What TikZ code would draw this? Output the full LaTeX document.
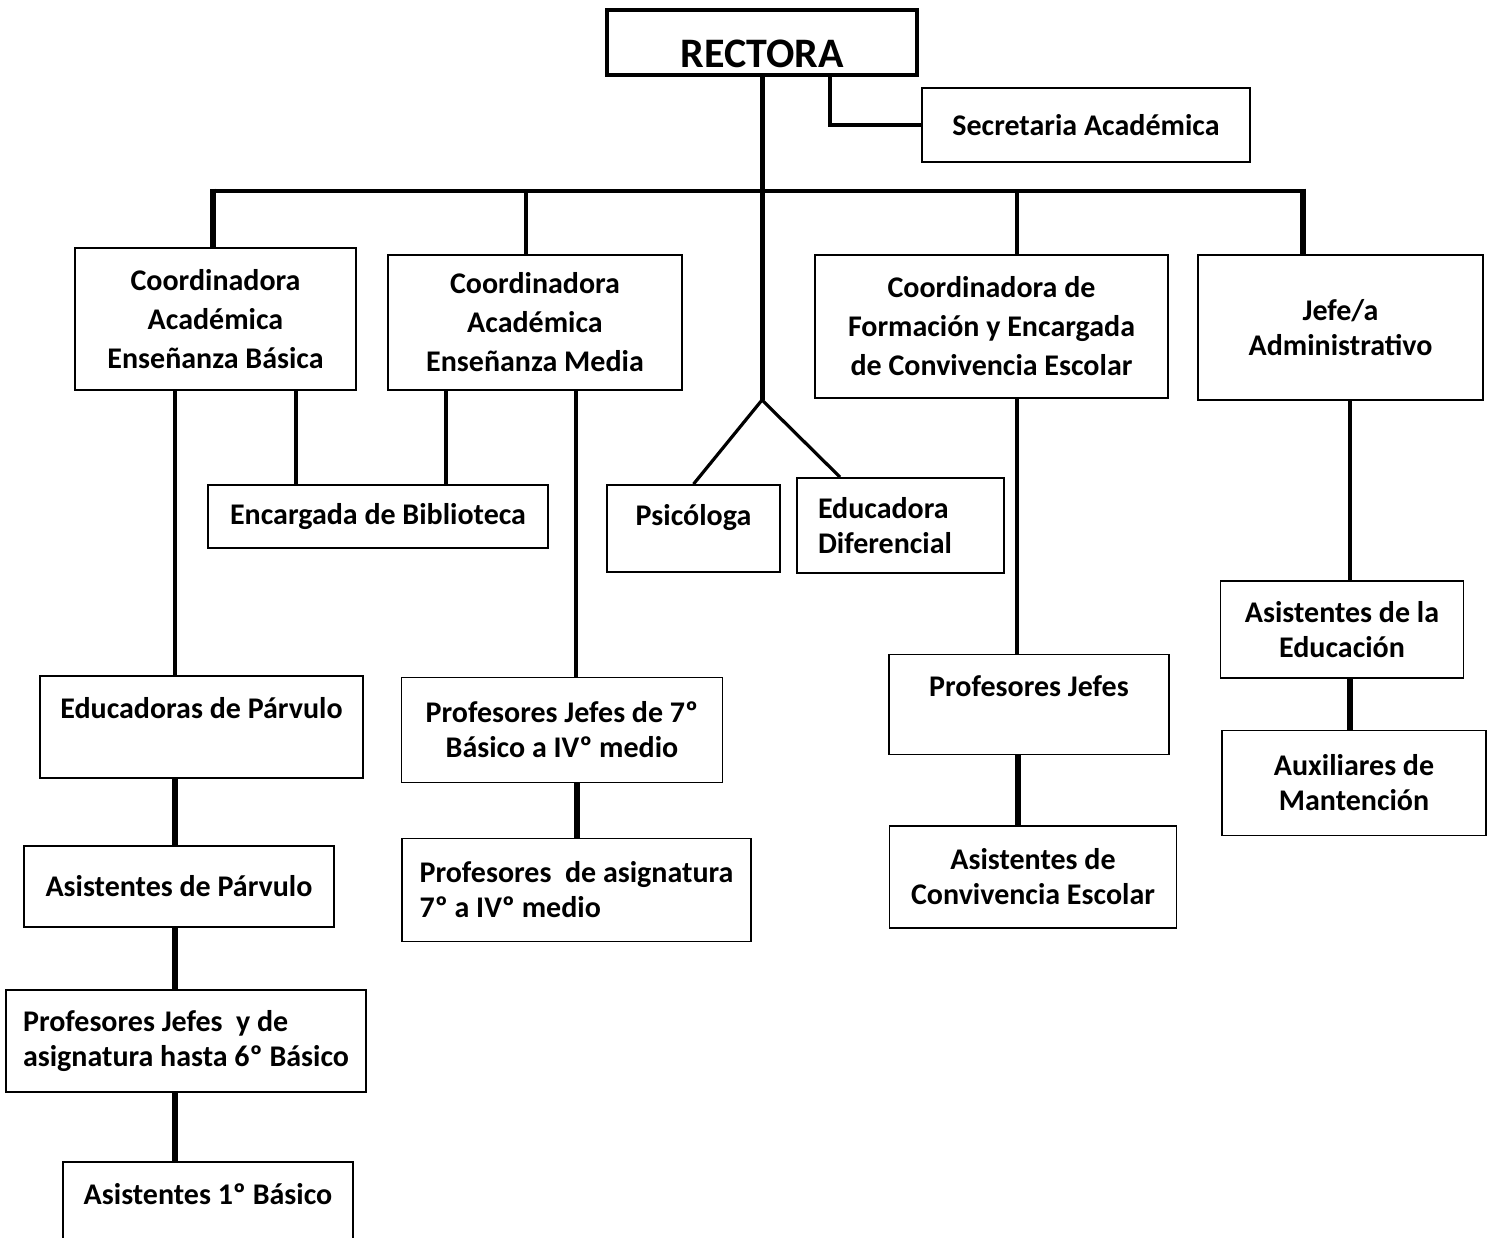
\documentclass[tikz,border=0pt]{standalone}
\usepackage{fontspec}
\setmainfont{Carlito}
\usepackage{tikz}

\tikzset{
  orgbox/.style={draw=black, line width=0.9pt, fill=white, inner sep=2pt, align=center,
    font=\fontsize{15}{17.5}\selectfont\bfseries},
  widelines/.style={font=\fontsize{15}{19.5}\selectfont\bfseries},
  boxsize/.style 2 args={minimum width=#1*0.5pt, minimum height=#2*0.5pt},
  toptext/.style={text height=10pt, text depth=#1},
  link/.style={line width=1.6pt},
  heavylink/.style={line width=2.8pt},
  busline/.style={line width=2.3pt}
}

\begin{document}
\begin{tikzpicture}[x=0.5pt, y=-0.5pt]
    \useasboundingbox (0,0) rectangle (1497,1237);

    % Head of the chart
    \node[orgbox, boxsize={310}{65}, line width=1.8pt, inner sep=0pt, font=\fontsize{21}{25}\selectfont\bfseries, text height=28.5pt, text depth=3.5pt] (rectora) at (762,42.5) {RECTORA};
    \node[orgbox, boxsize={328}{74}] (secre) at (1086,125) {Secretaria Académica};

    % Second level
    \node[orgbox, widelines, boxsize={281}{142}] (cbasica) at (215.5,319) {Coordinadora\\Académica\\Enseñanza Básica};
    \node[orgbox, widelines, boxsize={294}{135}] (cmedia) at (535,322.5) {Coordinadora\\Académica\\Enseñanza Media};
    \node[orgbox, widelines, boxsize={353}{143}] (cform) at (991.5,326.5) {Coordinadora de\\Formación y Encargada\\de Convivencia Escolar};
    \node[orgbox, boxsize={285}{145}] (jefe) at (1340.5,327.5) {Jefe/a\\Administrativo};

    % Third level
    \node[orgbox, boxsize={340}{63}] (biblio) at (378,516.5) {Encargada de Biblioteca};
    \node[orgbox, boxsize={173}{87}, toptext=12.8pt] (psico) at (693.5,528.5) {Psicóloga};
    \node[orgbox, boxsize={207}{95}, align=left, text width=82.5pt] (edudif) at (900.5,525.5) {Educadora\\Diferencial};

    % Lower boxes
    \node[orgbox, boxsize={323}{102}, toptext=18.3pt] (eduparv) at (201.5,727) {Educadoras de Párvulo};
    \node[orgbox, boxsize={310}{81}] (asisparv) at (179,886.5) {Asistentes de Párvulo};
    \node[orgbox, boxsize={360}{102}, align=left] (pjbasica) at (186,1041) {Profesores Jefes~ y de\\asignatura hasta 6º Básico};
    \node[orgbox, boxsize={290}{102}, toptext=18.3pt] (asis1) at (208,1213) {Asistentes 1º Básico};

    \node[orgbox, boxsize={321}{105}] (pjmedia) at (562,730) {Profesores Jefes de 7º\\Básico a IVº medio};
    \node[orgbox, boxsize={349}{103}, align=left] (pasig) at (576.5,890) {Profesores~ de asignatura\\7º a IVº medio};

    \node[orgbox, boxsize={280}{100}, toptext=17.8pt] (pjefes) at (1029,704.5) {Profesores Jefes};
    \node[orgbox, boxsize={287}{102}] (asisconv) at (1033,877) {Asistentes de\\Convivencia Escolar};

    \node[orgbox, boxsize={243}{97}] (asisedu) at (1342,629.5) {Asistentes de la\\Educación};
    \node[orgbox, boxsize={264}{105}] (auxil) at (1354,783) {Auxiliares de\\Mantención};

    \coordinate (fork) at (762,400);
    \coordinate (busL) at (213,191);
    \coordinate (busR) at (1303,191);

    % Main trunk, secretary and bus
    \draw[line width=2.5pt] (rectora.south) -- (fork);
    \draw[link] (fork) -- (psico.north);
    \draw[link] (fork) -- ([xshift=-30.25pt]edudif.north);
    \draw[link] ([xshift=34pt]rectora.south) |- (secre.west);
    \draw[busline] ([xshift=-1.4pt]busL) -- ([xshift=1.4pt]busR);
    \draw[heavylink] ([yshift=1.15pt]busL) -- (busL |- cbasica.north);
    \draw[heavylink] ([yshift=1.15pt]busR) -- (busR |- jefe.north);
    \draw[line width=2.2pt] ([xshift=-4.5pt]cmedia.north) -- ([xshift=-4.5pt]cmedia.north |- busL);
    \draw[line width=2.2pt] ([xshift=12.75pt]cform.north) -- ([xshift=12.75pt]cform.north |- busL);

    % From the coordinators down
    \draw[link] ([xshift=-20.25pt]cbasica.south) -- ([xshift=-20.25pt]cbasica.south |- eduparv.north);
    \draw[link] ([xshift=40.25pt]cbasica.south) -- ([xshift=40.25pt]cbasica.south |- biblio.north);
    \draw[link] ([xshift=-44.5pt]cmedia.south) -- ([xshift=-44.5pt]cmedia.south |- biblio.north);
    \draw[link] ([xshift=20.5pt]cmedia.south) -- ([xshift=20.5pt]cmedia.south |- pjmedia.north);
    \draw[link] ([xshift=12.75pt]cform.south) -- ([xshift=12.75pt]cform.south |- pjefes.north);
    \draw[link] ([xshift=4.75pt]jefe.south) -- ([xshift=4.75pt]jefe.south |- asisedu.north);

    % Lower chains
    \draw[heavylink] ([xshift=-13.25pt]eduparv.south) -- ([xshift=-13.25pt]eduparv.south |- asisparv.north);
    \draw[heavylink] ([xshift=-2pt]asisparv.south) -- ([xshift=-2pt]asisparv.south |- pjbasica.north);
    \draw[heavylink] ([xshift=-5.5pt]pjbasica.south) -- ([xshift=-5.5pt]pjbasica.south |- asis1.north);
    \draw[heavylink] ([xshift=7.5pt]pjmedia.south) -- ([xshift=7.5pt]pjmedia.south |- pasig.north);
    \draw[heavylink] ([xshift=-5.5pt]pjefes.south) -- ([xshift=-5.5pt]pjefes.south |- asisconv.north);
    \draw[heavylink] ([xshift=4pt]asisedu.south) -- ([xshift=4pt]asisedu.south |- auxil.north);
\end{tikzpicture}
\end{document}
